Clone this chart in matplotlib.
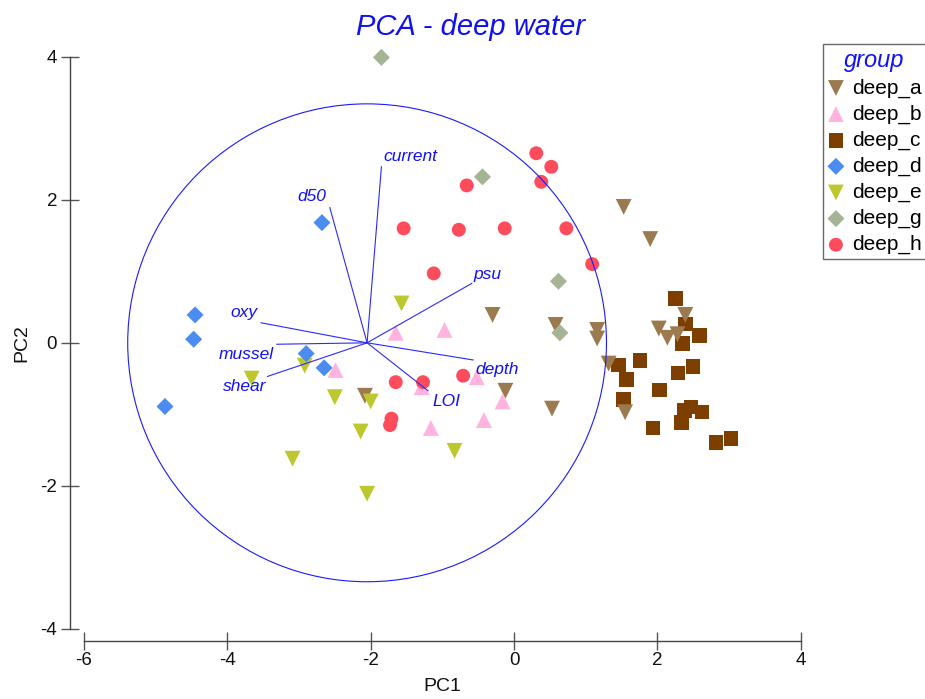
import numpy as np
import matplotlib
matplotlib.use('Agg')
import matplotlib.pyplot as plt
from matplotlib.patches import Circle

plt.rcParams['font.family'] = ['Liberation Sans', 'DejaVu Sans']
plt.rcParams['axes.unicode_minus'] = False

# scores on the first two principal components, per group
groups = ['deep_a', 'deep_b', 'deep_c', 'deep_d', 'deep_e', 'deep_g', 'deep_h']

deep_a_x = [-0.30, -2.08, -0.12, 0.53, 0.58, 1.16, 1.16, 1.53, 1.90, 1.32, 2.02, 2.14, 2.28, 2.39, 1.55]
deep_a_y = [0.39, -0.74, -0.67, -0.92, 0.25, 0.18, 0.06, 1.90, 1.45, -0.29, 0.20, 0.07, 0.12, 0.39, -0.97]

deep_b_x = [-1.65, -0.97, -2.49, -1.29, -0.52, -0.16, -0.42, -1.16]
deep_b_y = [0.14, 0.18, -0.38, -0.62, -0.48, -0.82, -1.08, -1.19]

deep_c_x = [2.25, 2.39, 2.59, 2.35, 1.46, 1.76, 2.50, 2.29, 1.57, 2.03, 1.53, 2.47, 2.62, 2.38, 2.34, 1.94, 2.82, 3.03]
deep_c_y = [0.62, 0.26, 0.10, -0.01, -0.31, -0.25, -0.33, -0.42, -0.51, -0.66, -0.79, -0.90, -0.97, -0.95, -1.11, -1.19, -1.39, -1.34]

deep_d_x = [-2.68, -4.45, -4.47, -2.90, -2.65, -4.87]
deep_d_y = [1.68, 0.39, 0.05, -0.15, -0.35, -0.89]

deep_e_x = [-1.57, -2.92, -3.66, -2.50, -2.00, -2.14, -3.09, -0.83, -2.05]
deep_e_y = [0.55, -0.32, -0.50, -0.76, -0.82, -1.24, -1.62, -1.51, -2.11]

deep_g_x = [-1.85, -0.44, 0.62, 0.64]
deep_g_y = [3.99, 2.32, 0.86, 0.14]

deep_h_x = [0.31, 0.52, 0.38, -0.66, -1.54, -0.77, -0.13, 0.73, 1.09, -1.12, -1.65, -1.27, -0.71, -1.71, -1.73]
deep_h_y = [2.65, 2.46, 2.25, 2.20, 1.60, 1.58, 1.60, 1.60, 1.10, 0.97, -0.55, -0.55, -0.46, -1.06, -1.15]

# variable vectors (start at the origin, end at these points)
var_names = ['current', 'd50', 'oxy', 'mussel', 'shear', 'psu', 'depth', 'LOI']
var_end_x = [-1.85, -2.57, -3.53, -3.31, -3.44, -0.59, -0.57, -1.20]
var_end_y = [2.46, 1.89, 0.28, -0.02, -0.47, 0.83, -0.24, -0.67]
var_lab_x = [-1.82, -2.82, -3.77, -3.73, -3.76, -0.37, -0.23, -0.94]
var_lab_y = [2.60, 2.04, 0.42, -0.17, -0.61, 0.96, -0.38, -0.82]
origin = (-2.05, 0.0)
circle_r = 3.34

data = {
    'deep_a': (deep_a_x, deep_a_y),
    'deep_b': (deep_b_x, deep_b_y),
    'deep_c': (deep_c_x, deep_c_y),
    'deep_d': (deep_d_x, deep_d_y),
    'deep_e': (deep_e_x, deep_e_y),
    'deep_g': (deep_g_x, deep_g_y),
    'deep_h': (deep_h_x, deep_h_y),
}
markers = {'deep_a': 'v', 'deep_b': '^', 'deep_c': 's', 'deep_d': 'D',
           'deep_e': 'v', 'deep_g': 'D', 'deep_h': 'o'}
sizes = {'deep_a': 130, 'deep_b': 130, 'deep_c': 110, 'deep_d': 75,
         'deep_e': 130, 'deep_g': 75, 'deep_h': 100}
colors = {'deep_a': '#9b7a50', 'deep_b': '#ffb3de', 'deep_c': '#7c3f00',
          'deep_d': '#4a8cf2', 'deep_e': '#bcc82e', 'deep_g': '#a4b495',
          'deep_h': '#ff4c5c'}
zorders = {'deep_c': 2, 'deep_a': 3, 'deep_b': 4, 'deep_e': 5,
           'deep_d': 6, 'deep_g': 7, 'deep_h': 8}

fig = plt.figure(figsize=(9.25, 6.99), dpi=100)
ax = fig.add_axes([0.0757, 0.0834, 0.7938, 0.8458])

for g in groups:
    x, y = data[g]
    ax.scatter(x, y, marker=markers[g], s=sizes[g], c=colors[g],
               edgecolors='none', zorder=zorders[g], label=g)

# correlation circle and vectors
ax.add_patch(Circle(origin, circle_r, fill=False, ec='#1a1aff', lw=0.8, zorder=10))
for name, ex, ey, lx, ly in zip(var_names, var_end_x, var_end_y, var_lab_x, var_lab_y):
    ax.plot([origin[0], ex], [origin[1], ey], color='#2a2aff', lw=0.8, zorder=10)
    ha = 'left' if name == 'current' else 'center'
    ax.text(lx, ly, name, color='#1010ff', fontsize=12.5, style='italic',
            ha=ha, va='center', zorder=11)

ax.set_xlim(-6.195, 4.05)
ax.set_ylim(-4.164, 4.1)

for s in ['top', 'right']:
    ax.spines[s].set_visible(False)
ax.spines['left'].set_bounds(-4, 4)
ax.spines['bottom'].set_bounds(-6, 4)
for s in ['left', 'bottom']:
    ax.spines[s].set_color('#444444')
    ax.spines[s].set_linewidth(1.0)

ax.set_xticks([-6, -4, -2, 0, 2, 4])
ax.set_yticks([-4, -2, 0, 2, 4])
ax.tick_params(direction='inout', length=12.6, width=1, color='#555555',
               labelsize=13.5, labelcolor='#111111')
ax.tick_params(axis='x', pad=1.5)
ax.tick_params(axis='y', pad=3)

ax.set_xlabel('PC1', fontsize=14, color='#111111')
ax.set_ylabel('PC2', fontsize=14, color='#111111')
ax.xaxis.set_label_coords(0.507, -0.0778)
ax.xaxis.label.set_va('center')
ax.yaxis.set_label_coords(-0.0654, 0.504)
ax.yaxis.label.set_va('center')

fig.text(0.509, 0.95, 'PCA - deep water', color='#1010f0', fontsize=21,
         style='italic', ha='center', va='baseline')

leg = ax.legend(loc='upper left', bbox_to_anchor=(823 / 925, 1 - 44 / 699),
                bbox_transform=fig.transFigure, title='group', fontsize=15,
                frameon=True, fancybox=False, borderpad=0.22, labelspacing=0.33,
                handlelength=0.8, handletextpad=0.36, borderaxespad=0)
leg.get_title().set_color('#1010ff')
leg.get_title().set_style('italic')
leg.get_title().set_fontsize(17)
leg.get_frame().set_edgecolor('#444444')
leg.get_frame().set_linewidth(1.0)

plt.savefig('out.png', dpi=100)
